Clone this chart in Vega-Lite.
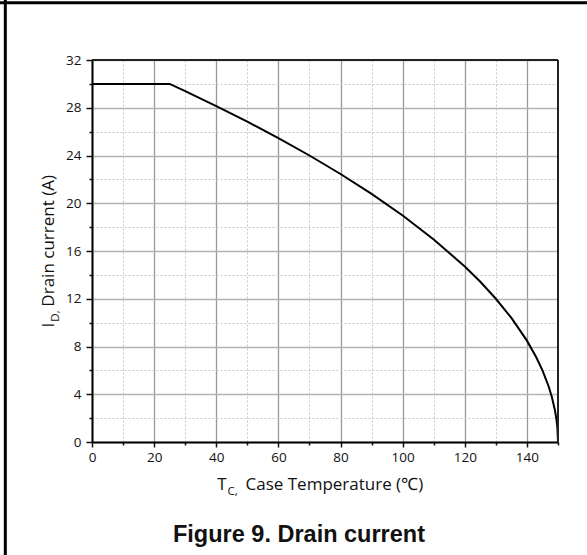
{
  "$schema": "https://vega.github.io/schema/vega-lite/v6.json",
  "width": 466,
  "height": 382,
  "autosize": {"type": "none"},
  "padding": {"left": 92, "top": 60, "right": 29, "bottom": 113},
  "background": "white",
  "config": {
    "view": {"stroke": null},
    "font": "Open Sans"
  },
  "datasets": {
    "curve": [
      {"T": 0, "I": 30},
      {"T": 25, "I": 30},
      {"T": 30, "I": 29.4},
      {"T": 40, "I": 28.14},
      {"T": 50, "I": 26.83},
      {"T": 60, "I": 25.46},
      {"T": 70, "I": 24.0},
      {"T": 80, "I": 22.45},
      {"T": 90, "I": 20.78},
      {"T": 100, "I": 18.97},
      {"T": 110, "I": 16.97},
      {"T": 120, "I": 14.7},
      {"T": 125, "I": 13.42},
      {"T": 130, "I": 12.0},
      {"T": 135, "I": 10.39},
      {"T": 140, "I": 8.49},
      {"T": 143, "I": 7.1},
      {"T": 145, "I": 6.0},
      {"T": 147, "I": 4.65},
      {"T": 148, "I": 3.79},
      {"T": 149, "I": 2.68},
      {"T": 149.5, "I": 1.9},
      {"T": 149.8, "I": 1.2},
      {"T": 150, "I": 0}
    ],
    "one": [{"k": 1}]
  },
  "layer": [
    {
      "data": {"name": "curve"},
      "mark": {"type": "line", "strokeOpacity": 0},
      "encoding": {
        "x": {
          "field": "T", "type": "quantitative",
          "scale": {"domain": [0, 150], "nice": false, "zero": false},
          "axis": {
            "orient": "bottom", "values": [10, 30, 50, 70, 90, 110, 130, 150],
            "labels": false, "title": null, "domain": false,
            "ticks": true, "tickSize": 3, "tickColor": "#111111", "tickWidth": 1.5,
            "grid": true, "gridColor": "#c8c8c8", "gridDash": [2, 2], "gridWidth": 1
          }
        },
        "y": {
          "field": "I", "type": "quantitative",
          "scale": {"domain": [0, 32], "nice": false, "zero": false},
          "axis": {
            "orient": "left", "values": [2, 6, 10, 14, 18, 22, 26, 30],
            "labels": false, "title": null, "domain": false,
            "ticks": true, "tickSize": 3, "tickColor": "#111111", "tickWidth": 1.5,
            "grid": true, "gridColor": "#c8c8c8", "gridDash": [2, 2], "gridWidth": 1
          }
        }
      }
    },
    {
      "data": {"name": "curve"},
      "mark": {"type": "line", "color": "#000000", "strokeWidth": 2},
      "encoding": {
        "x": {
          "field": "T", "type": "quantitative",
          "axis": {
            "orient": "bottom", "values": [0, 20, 40, 60, 80, 100, 120, 140],
            "title": null, "format": "d", "labelFlush": false,
            "domain": true, "domainColor": "#000000", "domainWidth": 2,
            "ticks": true, "tickSize": 5, "tickColor": "#111111", "tickWidth": 1.5,
            "labelFontSize": 13.5, "labelColor": "#111111", "labelPadding": 3, "labelFont": "Open Sans", "labelFontWeight": 400,
            "grid": true, "gridColor": "#999999", "gridWidth": 1.3
          }
        },
        "y": {
          "field": "I", "type": "quantitative",
          "axis": {
            "orient": "left", "values": [0, 4, 8, 12, 16, 20, 24, 28, 32],
            "title": null, "format": "d", "labelFlush": false,
            "domain": true, "domainColor": "#000000", "domainWidth": 2,
            "ticks": true, "tickSize": 6, "tickColor": "#111111", "tickWidth": 1.5,
            "labelFontSize": 13.5, "labelColor": "#111111", "labelPadding": 5, "labelFont": "Open Sans", "labelFontWeight": 400,
            "grid": true, "gridColor": "#b4b4b4", "gridWidth": 1.6
          }
        }
      }
    },
    {
      "data": {"name": "one"},
      "mark": {"type": "rule", "color": "#222222", "strokeWidth": 2},
      "encoding": {
        "x": {"datum": 0, "type": "quantitative", "axis": null},
        "x2": {"datum": 150},
        "y": {"datum": 32, "type": "quantitative", "axis": null}
      }
    },
    {
      "data": {"name": "one"},
      "mark": {"type": "rule", "color": "#222222", "strokeWidth": 2},
      "encoding": {
        "x": {"datum": 150, "type": "quantitative", "axis": null},
        "y": {"datum": 0, "type": "quantitative", "axis": null},
        "y2": {"datum": 32}
      }
    },
    {
      "data": {"name": "one"},
      "mark": {"type": "text", "text": "T", "align": "right", "baseline": "alphabetic", "fontSize": 17, "fontWeight": 400, "font": "Open Sans", "fill": "#111111", "dy": 48},
      "encoding": {
        "x": {"datum": 43.3, "type": "quantitative", "axis": null},
        "y": {"datum": 0, "type": "quantitative", "axis": null}
      }
    },
    {
      "data": {"name": "one"},
      "mark": {"type": "text", "text": "C,", "align": "left", "baseline": "alphabetic", "fontSize": 11.5, "fontWeight": 400, "font": "Open Sans", "fill": "#111111", "dy": 53, "dx": 1},
      "encoding": {
        "x": {"datum": 43.3, "type": "quantitative", "axis": null},
        "y": {"datum": 0, "type": "quantitative", "axis": null}
      }
    },
    {
      "data": {"name": "one"},
      "mark": {"type": "text", "text": "Case Temperature (℃)", "align": "left", "baseline": "alphabetic", "fontSize": 17, "fontWeight": 400, "font": "Open Sans", "fill": "#111111", "dy": 48, "dx": 19},
      "encoding": {
        "x": {"datum": 43.3, "type": "quantitative", "axis": null},
        "y": {"datum": 0, "type": "quantitative", "axis": null}
      }
    },
    {
      "data": {"name": "one"},
      "mark": {"type": "text", "text": "I", "align": "right", "baseline": "alphabetic", "angle": 270, "fontSize": 17, "fontWeight": 400, "font": "Open Sans", "fill": "#111111", "dy": -38},
      "encoding": {
        "x": {"datum": 0, "type": "quantitative", "axis": null},
        "y": {"datum": 10, "type": "quantitative", "axis": null}
      }
    },
    {
      "data": {"name": "one"},
      "mark": {"type": "text", "text": "D,", "align": "left", "baseline": "alphabetic", "angle": 270, "fontSize": 11.5, "fontWeight": 400, "font": "Open Sans", "fill": "#111111", "dy": -33, "dx": 1},
      "encoding": {
        "x": {"datum": 0, "type": "quantitative", "axis": null},
        "y": {"datum": 10, "type": "quantitative", "axis": null}
      }
    },
    {
      "data": {"name": "one"},
      "mark": {"type": "text", "text": "Drain current (A)", "align": "left", "baseline": "alphabetic", "angle": 270, "fontSize": 17, "fontWeight": 400, "font": "Open Sans", "fill": "#111111", "dy": -38, "dx": 16},
      "encoding": {
        "x": {"datum": 0, "type": "quantitative", "axis": null},
        "y": {"datum": 10, "type": "quantitative", "axis": null}
      }
    },
    {
      "data": {"name": "one"},
      "mark": {"type": "text", "text": "Figure 9. Drain current", "align": "center", "baseline": "alphabetic", "fontSize": 23.5, "fontWeight": "bold", "font": "Liberation Sans", "fill": "#111111", "dy": 100, "dx": -26},
      "encoding": {
        "x": {"datum": 75, "type": "quantitative", "axis": null},
        "y": {"datum": 0, "type": "quantitative", "axis": null}
      }
    },
    {
      "data": {"name": "one"},
      "mark": {"type": "rule", "color": "#000000", "strokeWidth": 3},
      "encoding": {
        "x": {"datum": -40, "type": "quantitative", "axis": null},
        "x2": {"datum": 200},
        "y": {"datum": 36.8, "type": "quantitative", "axis": null}
      }
    },
    {
      "data": {"name": "one"},
      "mark": {"type": "rule", "color": "#000000", "strokeWidth": 3},
      "encoding": {
        "x": {"datum": -27.9, "type": "quantitative", "axis": null},
        "y": {"datum": -9.5, "type": "quantitative", "axis": null},
        "y2": {"datum": 40}
      }
    }
  ],
  "resolve": {"axis": {"x": "independent", "y": "independent"}}
}
